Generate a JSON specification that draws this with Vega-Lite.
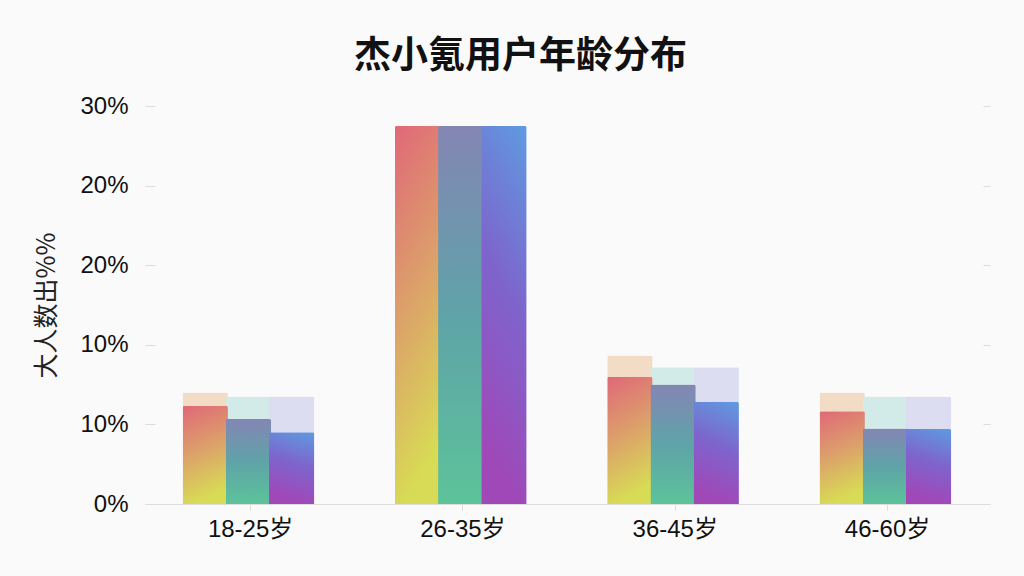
{
  "$schema": "https://vega.github.io/schema/vega-lite/v6.json",
  "autosize": {"type": "none"},
  "width": 845,
  "height": 398,
  "padding": {"left": 145, "top": 106, "right": 34, "bottom": 72},
  "background": "#fafafa",
  "config": {
    "view": {"stroke": null},
    "font": "Liberation Sans, Noto Sans CJK SC",
    "axis": {"labelFont": "Liberation Sans, Noto Sans CJK SC", "titleFont": "Noto Sans CJK SC"}
  },
  "title": {
    "text": "杰小氪用户年龄分布",
    "font": "Noto Sans CJK SC",
    "fontSize": 37,
    "fontWeight": "bold",
    "color": "#111111",
    "anchor": "middle",
    "frame": "group",
    "offset": 18,
    "dx": -47
  },
  "data": {
    "values": [
      {"age": "18-25岁", "series": "A", "value": 7.4, "bg": 8.4},
      {"age": "18-25岁", "series": "B", "value": 6.4, "bg": 8.1},
      {"age": "18-25岁", "series": "C", "value": 5.4, "bg": 8.1},
      {"age": "26-35岁", "series": "A", "value": 28.5, "bg": 28.5},
      {"age": "26-35岁", "series": "B", "value": 28.5, "bg": 28.5},
      {"age": "26-35岁", "series": "C", "value": 28.5, "bg": 28.5},
      {"age": "36-45岁", "series": "A", "value": 9.6, "bg": 11.2},
      {"age": "36-45岁", "series": "B", "value": 9.0, "bg": 10.3},
      {"age": "36-45岁", "series": "C", "value": 7.7, "bg": 10.3},
      {"age": "46-60岁", "series": "A", "value": 7.0, "bg": 8.4},
      {"age": "46-60岁", "series": "B", "value": 5.7, "bg": 8.1},
      {"age": "46-60岁", "series": "C", "value": 5.65, "bg": 8.1}
    ]
  },
  "encoding": {
    "x": {
      "field": "age",
      "type": "nominal",
      "sort": null,
      "scale": {"paddingInner": 0.39, "paddingOuter": 0.185, "align": 0.52, "round": false},
      "axis": {
        "title": null,
        "labelAngle": 0,
        "labelFontSize": 24,
        "labelColor": "#111111",
        "labelPadding": 7,
        "domainColor": "#dddddd",
        "tickColor": "#dddddd",
        "tickSize": 6
      }
    },
    "xOffset": {"field": "series", "type": "nominal", "scale": {"domain": ["A", "B", "C"], "paddingInner": 0, "paddingOuter": 0, "round": false}}
  },
  "resolve": {"axis": {"y": "independent"}},
  "layer": [
    {
      "mark": {"type": "bar", "width": {"band": 1.05}, "cornerRadiusTopLeft": 2, "cornerRadiusTopRight": 2},
      "encoding": {
        "y": {
          "field": "bg",
          "type": "quantitative",
          "scale": {"domain": [0, 30]},
          "axis": {
            "title": "大人数出%%",
            "titleFontSize": 25,
            "titleColor": "#222222",
            "titleFontWeight": "normal",
            "titleAngle": -90,
            "titlePadding": 20,
            "values": [0, 6, 12, 18, 24, 30],
            "labelExpr": "datum.value == 0 ? '0%' : datum.value <= 12 ? '10%' : datum.value <= 24 ? '20%' : '30%'",
            "labelFontSize": 24,
            "labelColor": "#111111",
            "labelPadding": 27,
            "ticks": true,
            "tickSize": -10,
            "tickColor": "#dddddd",
            "domain": false,
            "grid": false
          }
        },
        "color": {
          "field": "series",
          "type": "nominal",
          "scale": {"domain": ["A", "B", "C"], "range": ["#f3dcc6", "#d3ebe8", "#dcddf0"]},
          "legend": null
        }
      }
    },
    {
      "transform": [{"filter": "datum.series == 'A'"}],
      "mark": {
        "type": "bar",
        "width": {"band": 1.05},
        "cornerRadiusTopLeft": 2,
        "cornerRadiusTopRight": 2,
        "color": {
          "gradient": "linear",
          "x1": 0.2, "y1": 1, "x2": 0, "y2": 0,
          "stops": [
            {"offset": 0, "color": "#d8db55"},
            {"offset": 0.5, "color": "#dca06a"},
            {"offset": 1, "color": "#e06878"}
          ]
        }
      },
      "encoding": {
        "y": {"field": "value", "type": "quantitative", "scale": {"domain": [0, 30]}, "axis": null}
      }
    },
    {
      "transform": [{"filter": "datum.series == 'B'"}],
      "mark": {
        "type": "bar",
        "width": {"band": 1.05},
        "cornerRadiusTopLeft": 2,
        "cornerRadiusTopRight": 2,
        "color": {
          "gradient": "linear",
          "x1": 0, "y1": 1, "x2": 0, "y2": 0,
          "stops": [
            {"offset": 0, "color": "#5cc39a"},
            {"offset": 0.5, "color": "#5fa3a8"},
            {"offset": 1, "color": "#8486b4"}
          ]
        }
      },
      "encoding": {
        "y": {"field": "value", "type": "quantitative", "scale": {"domain": [0, 30]}, "axis": null}
      }
    },
    {
      "transform": [{"filter": "datum.series == 'C'"}],
      "mark": {
        "type": "bar",
        "width": {"band": 1.05},
        "cornerRadiusTopLeft": 2,
        "cornerRadiusTopRight": 2,
        "color": {
          "gradient": "linear",
          "x1": 0.8, "y1": 1, "x2": 1, "y2": 0,
          "stops": [
            {"offset": 0, "color": "#a048b8"},
            {"offset": 0.5, "color": "#7e64cc"},
            {"offset": 1, "color": "#5e9be0"}
          ]
        }
      },
      "encoding": {
        "y": {
          "field": "value",
          "type": "quantitative",
          "scale": {"domain": [0, 30]},
          "axis": {
            "orient": "right",
            "title": null,
            "labels": false,
            "domain": false,
            "grid": false,
            "values": [6, 12, 18, 24, 30],
            "tickColor": "#dddddd",
            "tickSize": -7
          }
        }
      }
    }
  ]
}
